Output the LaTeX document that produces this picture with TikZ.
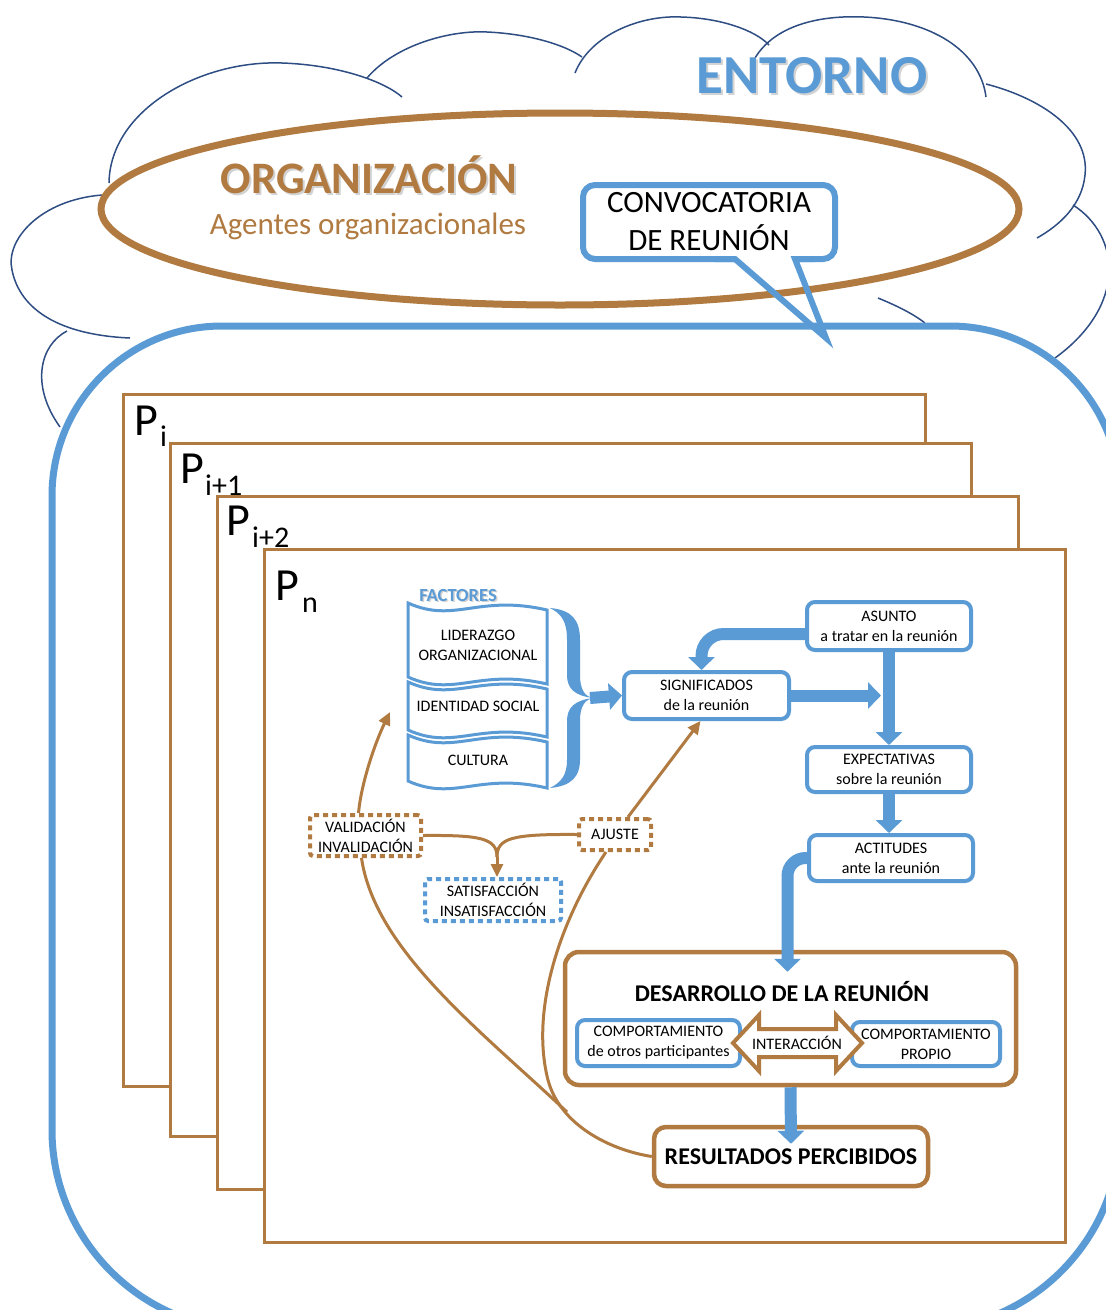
\documentclass[tikz,border=0pt]{standalone}
\usepackage{fontspec}
\setmainfont{Carlito}
\usetikzlibrary{arrows.meta,calc}
\definecolor{brn}{HTML}{B07A40}
\definecolor{blu}{HTML}{5B9BD5}
\definecolor{nvy}{HTML}{2E4D83}

\begin{document}
\begin{tikzpicture}[x=1pt,y=-1pt,
  cloudline/.style={draw=nvy,line width=1.5pt},
  pagebox/.style={draw=brn,line width=3pt,fill=white},
  plabel/.style={anchor=base west,inner sep=0pt,font=\fontsize{46}{46}\selectfont},
  psub/.style={anchor=base west,inner sep=0pt,font=\fontsize{30}{30}\selectfont},
  boxtext/.style={align=center,font=\fontsize{16}{20}\selectfont,inner sep=0pt},
  bluebox/.style={boxtext,draw=blu,line width=4pt,rounded corners=8pt,fill=white},
  brownbox/.style={draw=brn,line width=4.5pt,rounded corners=14pt,fill=white},
  dotbox/.style={boxtext,line width=4pt,rounded corners=3pt,dash pattern=on 5pt off 4pt,fill=white},
  bluearrow/.style={draw=blu,line width=12pt,-{Triangle[length=13pt,width=26pt]}},
  brownline/.style={draw=brn,line width=3pt},
  brownarrow/.style={brownline,-{Triangle[length=13pt,width=12pt]}},
  wavebox/.style={draw=blu,line width=3pt,fill=white},
  shadowtext/.style={text=black!50,opacity=0.35}
]
\useasboundingbox (0,0) rectangle (1106,1310);
\clip (0,0) rectangle (1106,1310);

% surrounding cloud
\draw[cloudline] (109,183) .. controls (110,110) and (200,60) .. (282,63) .. controls (340,65) and (385,82) .. (402,97);
\draw[cloudline] (367,78) .. controls (395,45) and (450,30) .. (487,32) .. controls (530,34) and (565,45) .. (582,57);
\draw[cloudline] (575,73) .. controls (590,35) and (640,15) .. (681,17) .. controls (720,18) and (755,30) .. (769,45);
\draw[cloudline] (755,58) .. controls (775,25) and (820,15) .. (864,17) .. controls (930,20) and (980,50) .. (986,97);
\draw[cloudline] (986,84) .. controls (1040,98) and (1090,130) .. (1085,175) .. controls (1082,205) and (1060,225) .. (1037,238);
\draw[cloudline] (1073,205) .. controls (1120,235) and (1128,305) .. (1055,358);
\draw[cloudline] (878,298) .. controls (895,305) and (912,313) .. (925,323);
\draw[cloudline] (102,195) .. controls (40,200) and (5,240) .. (12,270) .. controls (20,310) and (60,335) .. (130,338);
\draw[cloudline] (67,331) .. controls (40,345) and (30,385) .. (60,427);

\node[shadowtext,anchor=base,font=\fontsize{55}{55}\selectfont\bfseries] (entshadow) at (814,95) {ENTORNO};
\node[text=blu,anchor=base,font=\fontsize{55}{55}\selectfont\bfseries] (entorno) at (812,93) {ENTORNO};

% organisation ellipse
\draw[draw=brn,line width=7pt,fill=white] (560,209) ellipse [x radius=459, y radius=96];
\node[shadowtext,anchor=base,font=\fontsize{45}{45}\selectfont\bfseries] (orgshadow) at (371,195) {ORGANIZACIÓN};
\node[text=brn,anchor=base,font=\fontsize{45}{45}\selectfont\bfseries] (org) at (369,193) {ORGANIZACIÓN};
\node[text=brn,anchor=base,font=\fontsize{31}{31}\selectfont] (agentes) at (368,234) {Agentes organizacionales};

% meeting frame
\draw[draw=blu,line width=7pt,fill=white] (52,800) -- (52,496) .. controls (52,402) and (128,326) .. (222,326) -- (950,326) .. controls (1044,326) and (1120,402) .. (1120,496) -- (1120,1130) .. controls (1120,1240) and (1030,1330) .. (920,1330) -- (252,1330) .. controls (142,1330) and (52,1240) .. (52,1130) -- cycle;

% call-out
\node[font=\fontsize{31}{38}\selectfont,align=center,inner sep=0pt] (conv) at (709,222) {CONVOCATORIA\\DE REUNIÓN};
\draw[draw=blu,line width=6pt,rounded corners=12pt] (735,259) -- (583,259) -- (583,185) -- (835,185) -- (835,259) -- (795,259);
\draw[draw=blu,line width=6pt,line join=miter] (715,259) -- (735,259) -- (826,338) -- (795,259) -- (815,259);

% participants' sheets
\draw[pagebox] (123.5,394) rectangle (925.5,1086);
\node[plabel] (p1) at (134,435) {P};
\node[psub] (p1s) at (160,446) {i};
\draw[pagebox] (170.5,443.5) rectangle (971.5,1136.5);
\node[plabel] (p2) at (180,483) {P};
\node[psub] (p2s) at (205,495) {i+1};
\draw[pagebox] (217,496) rectangle (1018.5,1189);
\node[plabel] (p3) at (226,535) {P};
\node[psub] (p3s) at (252,547) {i+2};
\draw[pagebox] (264,549) rectangle (1065.5,1242);
\node[plabel] (p4) at (275,600) {P};
\node[psub] (p4s) at (302,612) {n};

% factors
\node[shadowtext,font=\fontsize{18.5}{20}\selectfont\bfseries] (facshadow) at (459.5,596.5) {FACTORES};
\node[text=blu,font=\fontsize{18.5}{20}\selectfont\bfseries] (factores) at (458,595) {FACTORES};
\draw[wavebox] (408,603) .. controls (455,624) and (478,594) .. (547,610) -- (547,684) .. controls (478,668) and (455,698) .. (408,677) -- cycle;
\draw[wavebox] (408,682) .. controls (455,703) and (478,673) .. (547,689) -- (547,737) .. controls (478,721) and (455,751) .. (408,730) -- cycle;
\draw[wavebox] (408,735) .. controls (455,756) and (478,726) .. (547,742) -- (547,788) .. controls (478,772) and (455,802) .. (408,781) -- cycle;
\node[boxtext] (lid) at (478,645) {LIDERAZGO\\ORGANIZACIONAL};
\node[boxtext] (ids) at (478,706) {IDENTIDAD SOCIAL};
\node[boxtext] (cul) at (478,760) {CULTURA};
\fill[blu] (550,608) .. controls (572,610) and (580,620) .. (580,640) -- (580,675) .. controls (580,690) and (585,697) .. (594,698) .. controls (585,699) and (580,706) .. (580,721) -- (580,760) .. controls (580,776) and (572,786) .. (550,788) .. controls (562,782) and (567,774) .. (567,760) -- (567,721) .. controls (567,708) and (574,700) .. (594,698) .. controls (574,696) and (567,688) .. (567,675) -- (567,640) .. controls (567,622) and (562,614) .. (550,608) -- cycle;
\coordinate (bracetip) at (590,698);

% flow of the meeting
\node[bluebox,minimum width=164pt,minimum height=48pt] (asunto) at (889,626) {ASUNTO\\a tratar en la reunión};
\node[bluebox,minimum width=165pt,minimum height=47pt] (sig) at (706.5,695.5) {SIGNIFICADOS\\de la reunión};
\node[bluebox,minimum width=164pt,minimum height=45pt] (expect) at (889,769.5) {EXPECTATIVAS\\sobre la reunión};
\node[bluebox,minimum width=164pt,minimum height=46pt] (actit) at (891,858) {ACTITUDES\\ante la reunión};

\draw[bluearrow] (bracetip) -- (sig.west);
\draw[bluearrow,rounded corners=22pt] ($(asunto.west)+(0,8)$) -| ($(sig.north)+(-5,0)$);
\draw[bluearrow] (sig.east) -- ++(90,0);
\draw[bluearrow] (asunto.south) -- (expect.north);
\draw[bluearrow] (expect.south) -- (expect.south |- actit.north);

\node[brownbox,minimum width=451pt,minimum height=133pt] (des) at (790.5,1018.5) {};
\node[font=\fontsize{24}{24}\selectfont\bfseries] (destitle) at (782,991) {DESARROLLO DE LA REUNIÓN};
\node[bluebox,minimum width=163pt,minimum height=46pt] (otros) at (658.5,1043) {COMPORTAMIENTO\\de otros participantes};
\node[bluebox,minimum width=148pt,minimum height=44pt] (propio) at (926,1044) {COMPORTAMIENTO\\PROPIO};
\draw[draw=brn,line width=4pt,fill=white,line join=miter] (733,1043) -- (759,1015) -- (759,1029) -- (836,1029) -- (836,1015) -- (862,1043) -- (836,1071) -- (836,1057) -- (759,1057) -- (759,1071) -- cycle;
\node[boxtext] (inter) at (797,1043) {INTERACCIÓN};
\draw[bluearrow,rounded corners=18pt] (actit.west) -| ($(des.north)+(-3,22)$);

\node[brownbox,minimum width=274pt,minimum height=59pt,rounded corners=12pt,font=\fontsize{24}{24}\selectfont\bfseries] (res) at (791,1156.5) {RESULTADOS PERCIBIDOS};
\draw[bluearrow] (des.south) -- ($(res.north)+(0,19)$);

% evaluation loop
\node[dotbox,draw=brn,minimum width=111pt,minimum height=41pt] (val) at (365.5,835.5) {VALIDACIÓN\\INVALIDACIÓN};
\node[dotbox,draw=blu,minimum width=136pt,minimum height=42pt] (sat) at (493,900) {SATISFACCIÓN\\INSATISFACCIÓN};
\node[dotbox,draw=brn,minimum width=72pt,minimum height=31pt] (aj) at (615,834.5) {AJUSTE};

\coordinate (valtip) at (390,712);
\coordinate (fork) at (497,857);
\draw[brownarrow] ($(val.north)+(-7,0)$) .. controls (361,785) and (374,745) .. (valtip);
\draw[brownarrow] ($(aj.north)+(13,0)$) -- ($(sig.south)+(-6,0)$);
\draw[brownline] (val.east) .. controls (480,835) and (497,838) .. (fork);
\draw[brownline] (aj.west) .. controls (512,834) and (497,838) .. (fork);
\draw[brownarrow] (fork) -- (fork |- sat.north);
\draw[brownline] ($(val.south)+(-4,0)$) .. controls (375,950) and (480,1030) .. (567,1112);
\draw[brownline] ($(aj.south)+(-9,0)$) .. controls (560,920) and (530,1010) .. (548,1080) .. controls (560,1125) and (610,1150) .. (res.west);
\end{tikzpicture}
\end{document}
